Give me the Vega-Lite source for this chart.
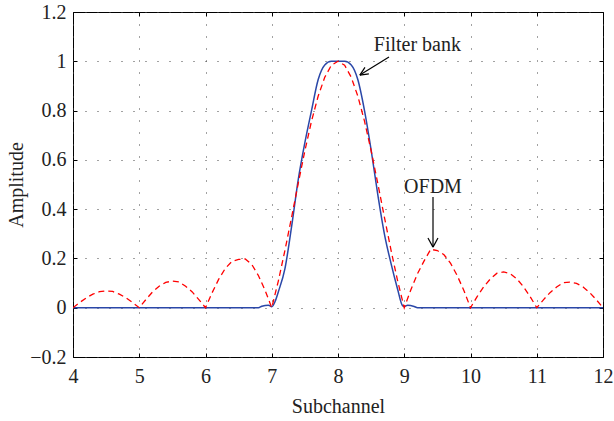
{
  "$schema": "https://vega.github.io/schema/vega-lite/v6.json",
  "width": 530,
  "height": 345,
  "autosize": {"type": "none"},
  "padding": {"left": 73, "top": 12, "right": 11, "bottom": 64},
  "background": "white",
  "config": {
    "font": "Liberation Serif",
    "view": {"stroke": "black", "strokeWidth": 1},
    "axis": {
      "labelFont": "Liberation Serif",
      "titleFont": "Liberation Serif",
      "labelFontSize": 20,
      "titleFontSize": 20,
      "titleFontWeight": "normal",
      "labelColor": "#222",
      "titleColor": "#222",
      "labelFlush": false,
      "labelOverlap": false,
      "domainColor": "black",
      "tickColor": "black",
      "gridColor": "#444",
      "gridDash": [1, 11],
      "gridOpacity": 1,
      "gridWidth": 1
    }
  },
  "resolve": {"axis": {"x": "independent", "y": "independent"}},
  "datasets": {
    "ofdm": [
      {"x": 4.0, "y": 0}, {"x": 4.1, "y": 0.021}, {"x": 4.2, "y": 0.040}, {"x": 4.3, "y": 0.055}, {"x": 4.4, "y": 0.065}, {"x": 4.5, "y": 0.068}, {"x": 4.6, "y": 0.066}, {"x": 4.7, "y": 0.055}, {"x": 4.8, "y": 0.040}, {"x": 4.9, "y": 0.021}, {"x": 5.0, "y": 0},
      {"x": 5.1, "y": 0.033}, {"x": 5.2, "y": 0.064}, {"x": 5.3, "y": 0.087}, {"x": 5.4, "y": 0.103}, {"x": 5.5, "y": 0.108}, {"x": 5.6, "y": 0.105}, {"x": 5.7, "y": 0.087}, {"x": 5.8, "y": 0.064}, {"x": 5.9, "y": 0.033}, {"x": 6.0, "y": 0},
      {"x": 6.1, "y": 0.061}, {"x": 6.2, "y": 0.116}, {"x": 6.3, "y": 0.160}, {"x": 6.4, "y": 0.188}, {"x": 6.5, "y": 0.196}, {"x": 6.6, "y": 0.198}, {"x": 6.7, "y": 0.175}, {"x": 6.8, "y": 0.130}, {"x": 6.9, "y": 0.070}, {"x": 7.0, "y": 0},
      {"x": 7.1, "y": 0.109}, {"x": 7.2, "y": 0.234}, {"x": 7.3, "y": 0.368}, {"x": 7.4, "y": 0.505}, {"x": 7.5, "y": 0.637}, {"x": 7.6, "y": 0.757}, {"x": 7.7, "y": 0.858}, {"x": 7.8, "y": 0.935}, {"x": 7.9, "y": 0.984}, {"x": 8.0, "y": 1.0},
      {"x": 8.1, "y": 0.984}, {"x": 8.2, "y": 0.935}, {"x": 8.3, "y": 0.858}, {"x": 8.4, "y": 0.757}, {"x": 8.5, "y": 0.637}, {"x": 8.6, "y": 0.505}, {"x": 8.7, "y": 0.368}, {"x": 8.8, "y": 0.234}, {"x": 8.9, "y": 0.109}, {"x": 9.0, "y": 0},
      {"x": 9.1, "y": 0.073}, {"x": 9.2, "y": 0.138}, {"x": 9.3, "y": 0.190}, {"x": 9.4, "y": 0.237}, {"x": 9.5, "y": 0.232}, {"x": 9.6, "y": 0.215}, {"x": 9.7, "y": 0.180}, {"x": 9.8, "y": 0.130}, {"x": 9.9, "y": 0.070}, {"x": 10.0, "y": 0},
      {"x": 10.1, "y": 0.045}, {"x": 10.2, "y": 0.085}, {"x": 10.3, "y": 0.117}, {"x": 10.4, "y": 0.140}, {"x": 10.5, "y": 0.145}, {"x": 10.6, "y": 0.138}, {"x": 10.7, "y": 0.117}, {"x": 10.8, "y": 0.085}, {"x": 10.9, "y": 0.045}, {"x": 11.0, "y": 0},
      {"x": 11.1, "y": 0.032}, {"x": 11.2, "y": 0.061}, {"x": 11.3, "y": 0.084}, {"x": 11.4, "y": 0.102}, {"x": 11.5, "y": 0.104}, {"x": 11.6, "y": 0.099}, {"x": 11.7, "y": 0.084}, {"x": 11.8, "y": 0.061}, {"x": 11.9, "y": 0.032}, {"x": 12.0, "y": 0}
    ],
    "filterbank": [
      {"x": 4.0, "y": 0}, {"x": 6.8, "y": 0}, {"x": 6.85, "y": 0.006}, {"x": 6.95, "y": 0.01}, {"x": 7.0, "y": 0.004}, {"x": 7.05, "y": 0.025},
      {"x": 7.1, "y": 0.065}, {"x": 7.2, "y": 0.16}, {"x": 7.3, "y": 0.33}, {"x": 7.4, "y": 0.52}, {"x": 7.5, "y": 0.67}, {"x": 7.6, "y": 0.80}, {"x": 7.7, "y": 0.925}, {"x": 7.8, "y": 0.985}, {"x": 7.9, "y": 1.0},
      {"x": 8.0, "y": 1.0}, {"x": 8.1, "y": 1.0}, {"x": 8.2, "y": 0.985}, {"x": 8.3, "y": 0.925}, {"x": 8.4, "y": 0.80}, {"x": 8.5, "y": 0.64}, {"x": 8.6, "y": 0.46}, {"x": 8.7, "y": 0.30}, {"x": 8.8, "y": 0.18}, {"x": 8.9, "y": 0.075},
      {"x": 8.97, "y": 0.01}, {"x": 9.0, "y": 0.005}, {"x": 9.05, "y": 0.01}, {"x": 9.15, "y": 0.005}, {"x": 9.2, "y": 0}, {"x": 12.0, "y": 0}
    ],
    "arrows": [
      {"x": 8.77, "y": 1.017, "x2": 8.33, "y2": 0.944},
      {"x": 8.33, "y": 0.944, "x2": 8.466, "y2": 0.949},
      {"x": 8.33, "y": 0.944, "x2": 8.407, "y2": 0.975},
      {"x": 9.434, "y": 0.449, "x2": 9.434, "y2": 0.246},
      {"x": 9.434, "y": 0.246, "x2": 9.358, "y2": 0.283},
      {"x": 9.434, "y": 0.246, "x2": 9.509, "y2": 0.283}
    ],
    "fblabel": [{"x": 8.54, "y": 1.066, "text": "Filter bank"}],
    "ofdmlabel": [{"x": 9.434, "y": 0.49, "text": "OFDM"}]
  },
  "layer": [
    {
      "data": {"name": "filterbank"},
      "mark": {"type": "line", "color": "#2a47a8", "strokeWidth": 1.5, "interpolate": "monotone", "clip": true},
      "encoding": {
        "x": {"field": "x", "type": "quantitative", "scale": {"domain": [4, 12], "nice": false, "zero": false},
          "axis": {"title": "Subchannel", "values": [4, 5, 6, 7, 8, 9, 10, 11, 12], "format": "d", "grid": true, "tickSize": -4, "labelPadding": 13, "titlePadding": 10, "domain": false}},
        "y": {"field": "y", "type": "quantitative", "scale": {"domain": [-0.2, 1.2], "nice": false, "zero": false},
          "axis": {"title": "Amplitude", "values": [-0.2, 0, 0.2, 0.4, 0.6, 0.8, 1, 1.2], "format": "~g", "grid": true, "tickSize": -4, "labelPadding": 11, "titlePadding": 3, "domain": false}}
      }
    },
    {
      "data": {"name": "ofdm"},
      "mark": {"type": "line", "color": "#ff0000", "strokeWidth": 1.3, "strokeDash": [6, 4], "clip": true},
      "encoding": {
        "x": {"field": "x", "type": "quantitative", "axis": null},
        "y": {"field": "y", "type": "quantitative", "axis": null}
      }
    },
    {
      "data": {"name": "arrows"},
      "mark": {"type": "rule", "color": "black", "strokeWidth": 1.2},
      "encoding": {
        "x": {"field": "x", "type": "quantitative",
          "axis": {"orient": "top", "values": [4, 5, 6, 7, 8, 9, 10, 11, 12], "labels": false, "title": null, "grid": false, "tickSize": -4, "domain": false}},
        "y": {"field": "y", "type": "quantitative",
          "axis": {"orient": "right", "values": [-0.2, 0, 0.2, 0.4, 0.6, 0.8, 1, 1.2], "labels": false, "title": null, "grid": false, "tickSize": -4, "domain": false}},
        "x2": {"field": "x2"},
        "y2": {"field": "y2"}
      }
    },
    {
      "data": {"name": "fblabel"},
      "mark": {"type": "text", "font": "Liberation Serif", "fontSize": 20, "color": "#222", "baseline": "middle", "align": "left"},
      "encoding": {
        "x": {"field": "x", "type": "quantitative", "axis": null},
        "y": {"field": "y", "type": "quantitative", "axis": null},
        "text": {"field": "text"}
      }
    },
    {
      "data": {"name": "ofdmlabel"},
      "mark": {"type": "text", "font": "Liberation Serif", "fontSize": 20, "color": "#222", "baseline": "middle", "align": "center"},
      "encoding": {
        "x": {"field": "x", "type": "quantitative", "axis": null},
        "y": {"field": "y", "type": "quantitative", "axis": null},
        "text": {"field": "text"}
      }
    }
  ]
}
